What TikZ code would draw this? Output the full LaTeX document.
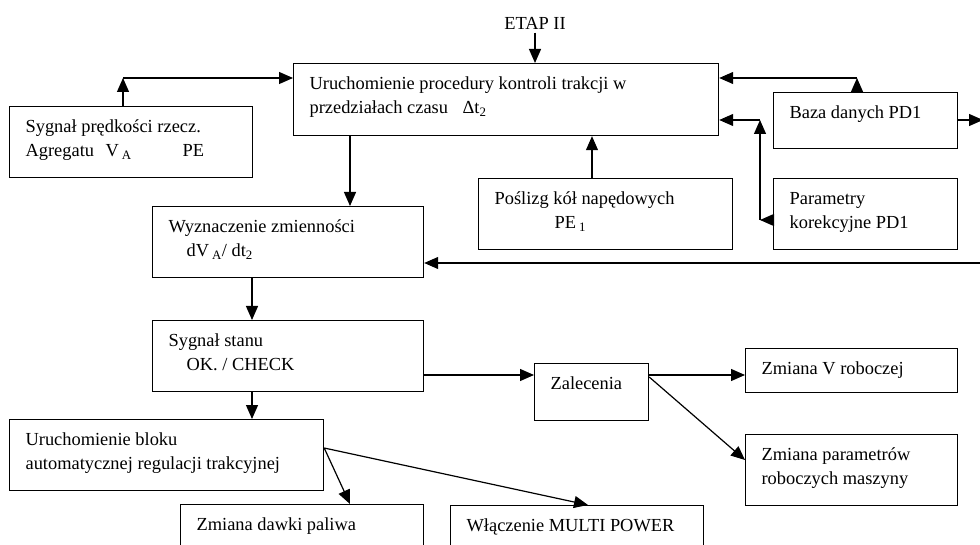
\documentclass[tikz,border=0pt]{standalone}
\usepackage{fontspec}
\setmainfont{Liberation Serif}
\usetikzlibrary{arrows.meta}

\newcommand{\bt}[3]{\parbox[t][#2][t]{#1}{\fontsize{18.4}{24}\selectfont\raggedright\leftskip=16pt\rule{0pt}{26pt}#3}}

\begin{document}
\begin{tikzpicture}[x=1pt, y=-1pt,
  box/.style={draw, line width=1.2pt, inner sep=0pt, anchor=north west},
  arr/.style={line width=1.2pt, -{Triangle[length=14pt,width=12pt]}}]
\useasboundingbox (0,0) rectangle (980,545);
\clip (0,0) rectangle (980,545);
\fill[white] (0,0) rectangle (980,545);

% Boxes
\node (etap) at (535,23) {\fontsize{18.4}{24}\selectfont ETAP II};
\node[box] (sygp) at (9,106) {\bt{243pt}{71pt}{Sygnał prędkości rzecz.\\ \makebox[80pt][l]{Agregatu}\makebox[77pt][l]{V\,\textsubscript{A}}PE}};
\node[box] (uruch) at (293,63) {\bt{425pt}{72pt}{Uruchomienie procedury kontroli trakcji w\\ \makebox[153pt][l]{przedziałach czasu}Δt\textsubscript{2}}};
\node[box] (baza) at (773,92) {\bt{184pt}{56pt}{Baza danych PD1}};
\node[box] (param) at (773,178) {\bt{184pt}{71pt}{Parametry\\ korekcyjne PD1}};
\node[box] (poslizg) at (478,178) {\bt{254pt}{71pt}{Poślizg kół napędowych\\ \hspace*{60pt}PE\,\textsubscript{1}}};
\node[box] (wyzn) at (152,206) {\bt{271pt}{71pt}{Wyznaczenie zmienności\\ \hspace*{18pt}dV\,\textsubscript{A}/ dt\textsubscript{2}}};
\node[box] (stan) at (152,320) {\bt{271pt}{71pt}{Sygnał stanu\\ \hspace*{18pt}OK. / CHECK}};
\node[box] (zal) at (534,363) {\bt{114pt}{57pt}{Zalecenia}};
\node[box] (zmv) at (745,348) {\bt{212pt}{44pt}{Zmiana V roboczej}};
\node[box] (zmp) at (745,434) {\bt{212pt}{71pt}{Zmiana parametrów\\ roboczych maszyny}};
\node[box] (blok) at (9,419) {\bt{314pt}{71pt}{Uruchomienie bloku\\ automatycznej regulacji trakcyjnej}};
\node[box] (dawka) at (180,504) {\bt{243pt}{71pt}{Zmiana dawki paliwa}};
\node[box] (wlacz) at (450,505) {\bt{253pt}{71pt}{Włączenie MULTI POWER}};

% Inputs to the control procedure
\draw[arr] (etap.south) -- (uruch.north -| etap.south);
\coordinate (c1) at (123,78);
\draw[arr] (sygp.north -| c1) -- (c1);
\draw[arr] (c1) -- (uruch.west |- c1);
\coordinate (c2) at (857,78);
\draw[arr] (baza.north -| c2) -- (c2);
\draw[arr] (c2) -- (uruch.east |- c2);
\coordinate (c3) at (760,220);
\coordinate (c4) at (760,120);
\draw[arr] (param.west |- c3) -- (c3);
\draw[arr] (c3) -- (c4);
\draw[arr] (c4) -- (uruch.east |- c4);
\draw[arr] (poslizg.north -| 592,0) -- (uruch.south -| 592,0);
\coordinate (bout) at (983,120);
\draw[arr] (baza.east |- bout) -- (bout);

% Main chain
\draw[arr] (uruch.south -| 350,0) -- (wyzn.north -| 350,0);
\coordinate (rin) at (981,263);
\draw[arr] (rin) -- (wyzn.east |- rin);
\draw[arr] (wyzn.south -| 252,0) -- (stan.north -| 252,0);
\draw[arr] (stan.south -| 252,0) -- (blok.north -| 252,0);

% Recommendations
\draw[arr] (stan.east |- 0,375) -- (zal.west |- 0,375);
\draw[arr] (zal.east |- 0,375) -- (zmv.west |- 0,375);
\draw[arr] (zal.north east |- 0,377) -- (zmp.west |- 0,460);

% Traction control actions
\coordinate (bo) at (blok.east |- 0,448);
\draw[arr] (bo) -- (dawka.north -| 350,0);
\draw[arr] (bo) -- (wlacz.north -| 588,0);
\end{tikzpicture}
\end{document}
